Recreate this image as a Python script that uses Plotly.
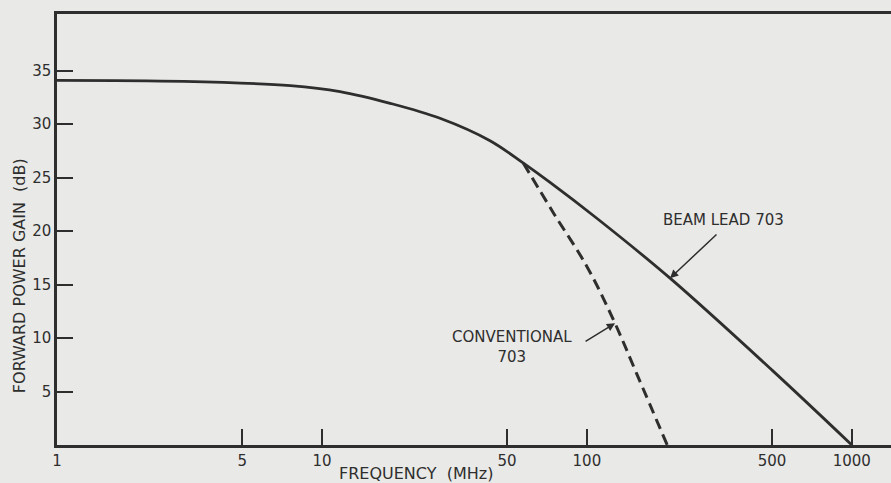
import numpy as np
import plotly.graph_objects as go

# values
freq_beam = [1, 3, 7.6, 11.7, 18.1, 27.9, 43.1, 57.6, 72.6, 109, 206, 500, 1000]
gain_beam = [34.1, 34.0, 33.6, 33.05, 31.95, 30.55, 28.45, 26.35, 24.55, 21.2, 15.6, 7.0, 0]

freq_conv = [57.6, 74.8, 100, 126, 154, 201]
gain_conv = [26.35, 21.7, 16.7, 11.7, 6.7, 0]

x_ticks = [1, 5, 10, 50, 100, 500, 1000]
x_ticktext = ["1", "5", "10", "50", "100", "500", "1000"]
y_ticks = [5, 10, 15, 20, 25, 30, 35]
y_ticktext = ["5", "10", "15", "20", "25", "30", "35"]

INK = "#2e2e2e"
PAPER = "#e9e9e7"
FONT = "DejaVu Sans"

fig = go.Figure()
fig.add_trace(go.Scatter(
    x=freq_beam, y=gain_beam, mode="lines",
    line=dict(color=INK, width=2.8, shape="spline", smoothing=1.0),
    hoverinfo="skip",
))
fig.add_trace(go.Scatter(
    x=freq_conv, y=gain_conv, mode="lines",
    line=dict(color=INK, width=3, dash="11px,6px", shape="spline", smoothing=1.0),
    hoverinfo="skip",
))

# curve labels with arrows pointing at the lines
fig.add_annotation(x=np.log10(206), y=15.6, text="", showarrow=True,
                   ax=48, ay=-45, arrowhead=2, arrowsize=1.1, arrowwidth=1.5,
                   arrowcolor=INK)
fig.add_annotation(x=2.514, y=21.05, text="BEAM LEAD 703", showarrow=False,
                   font=dict(family=FONT, size=15, color=INK))

fig.add_annotation(x=np.log10(127.8), y=11.38, text="", showarrow=True,
                   ax=-31, ay=19, arrowhead=2, arrowsize=1.1, arrowwidth=1.5,
                   arrowcolor=INK)
fig.add_annotation(x=1.718, y=9.2, text="CONVENTIONAL<br>703", showarrow=False,
                   font=dict(family=FONT, size=15, color=INK))

# axis titles
fig.add_annotation(xref="paper", yref="paper", x=-0.0456, y=0.394,
                   text="FORWARD POWER GAIN  (dB)", textangle=-90,
                   showarrow=False, xanchor="center", yanchor="middle",
                   font=dict(family=FONT, size=16, color=INK))
fig.add_annotation(xref="paper", yref="paper", x=0.43, y=-0.067,
                   text="FREQUENCY  (MHz)", showarrow=False,
                   xanchor="center", yanchor="middle",
                   font=dict(family=FONT, size=16, color=INK))

fig.update_layout(
    width=891, height=483,
    margin=dict(l=57, r=0, t=14, b=38),
    paper_bgcolor=PAPER, plot_bgcolor=PAPER,
    showlegend=False,
    font=dict(family=FONT, size=15, color=INK),
    xaxis=dict(type="log", range=[0, 3.148],
               tickvals=x_ticks, ticktext=x_ticktext,
               ticks="inside", ticklen=16, tickwidth=2, tickcolor=INK,
               showline=True, linewidth=2.5, linecolor=INK, mirror=True,
               showgrid=False, zeroline=False),
    yaxis=dict(range=[0, 40.3],
               tickvals=y_ticks, ticktext=y_ticktext,
               ticks="inside", ticklen=16, tickwidth=2, tickcolor=INK,
               showline=True, linewidth=2.5, linecolor=INK,
               showgrid=False, zeroline=False),
)

fig.write_html("out.html", config={"displayModeBar": False},
               post_script="document.body.style.margin='0';")
